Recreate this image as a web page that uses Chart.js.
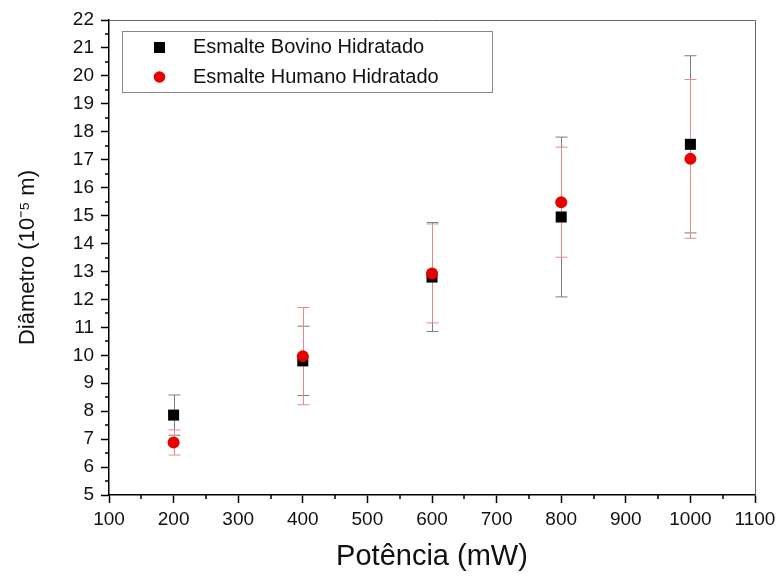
<!DOCTYPE html>
<html>
<head>
<meta charset="utf-8">
<script src="https://cdn.jsdelivr.net/npm/chart.js@4.4.0/dist/chart.umd.min.js"></script>
<style>
    html, body { margin: 0; padding: 0; background: #fff; }
    #wrap { width: 777px; height: 577px; }
</style>
</head>
<body>
<div id="wrap"><canvas id="myChart" width="777" height="577"></canvas></div>
<script>
const potencia = [200, 400, 600, 800, 1000];
const bovino = [7.86, 9.8, 12.8, 14.95, 17.55];
const bovinoErr = [0.72, 1.24, 1.95, 2.86, 3.17];
const humano = [6.88, 9.97, 12.93, 15.48, 17.03];
const humanoErr = [0.45, 1.74, 1.77, 1.97, 2.84];
const seriesLabels = ["Esmalte Bovino Hidratado", "Esmalte Humano Hidratado"];

const FONT = "'Liberation Sans', Arial, sans-serif";

const toPoints = (ys) => potencia.map((x, i) => ({ x: x, y: ys[i] }));

// error bars, drawn under the markers
const errorBars = {
    id: "errorBars",
    beforeDatasetsDraw(chart) {
        const ctx = chart.ctx;
        const xs = chart.scales.x;
        const ys = chart.scales.y;
        const sets = [
            { vals: bovino, err: bovinoErr, color: "#7d7d7d" },
            { vals: humano, err: humanoErr, color: "#e48a8a" }
        ];
        ctx.save();
        ctx.lineWidth = 1;
        sets.forEach(s => {
            ctx.strokeStyle = s.color;
            for (let i = 0; i < potencia.length; i++) {
                const x = Math.round(xs.getPixelForValue(potencia[i])) + 0.5;
                const top = ys.getPixelForValue(s.vals[i] + s.err[i]);
                const bot = ys.getPixelForValue(s.vals[i] - s.err[i]);
                ctx.beginPath();
                ctx.moveTo(x, top);
                ctx.lineTo(x, bot);
                ctx.moveTo(x - 6, top);
                ctx.lineTo(x + 6, top);
                ctx.moveTo(x - 6, bot);
                ctx.lineTo(x + 6, bot);
                ctx.stroke();
            }
        });
        ctx.restore();
    }
};

// frame, minor ticks and the legend box
const decorations = {
    id: "decorations",
    afterDraw(chart) {
        const ctx = chart.ctx;
        const area = chart.chartArea;
        const xs = chart.scales.x;
        const ys = chart.scales.y;
        ctx.save();

        ctx.strokeStyle = "#666";
        ctx.lineWidth = 1;
        ctx.beginPath();
        ctx.moveTo(area.left, area.top + 0.5);
        ctx.lineTo(area.right + 0.5, area.top + 0.5);
        ctx.lineTo(area.right + 0.5, area.bottom);
        ctx.stroke();

        ctx.strokeStyle = "#000";
        ctx.lineWidth = 1.5;
        ctx.beginPath();
        for (let v = 5.5; v < 22; v += 1) {
            const y = Math.round(ys.getPixelForValue(v));
            ctx.moveTo(area.left, y);
            ctx.lineTo(area.left - 4, y);
        }
        for (let v = 150; v < 1100; v += 100) {
            const x = Math.round(xs.getPixelForValue(v));
            ctx.moveTo(x, area.bottom);
            ctx.lineTo(x, area.bottom + 4);
        }
        ctx.stroke();

        // legend
        ctx.strokeStyle = "#888";
        ctx.lineWidth = 1;
        ctx.fillStyle = "#fff";
        ctx.fillRect(122.5, 31.5, 370, 61);
        ctx.strokeRect(122.5, 31.5, 370, 61);

        ctx.fillStyle = "#000";
        ctx.fillRect(154, 42, 11, 11);
        ctx.fillStyle = "#e60000";
        ctx.beginPath();
        ctx.arc(159.5, 77, 5.8, 0, Math.PI * 2);
        ctx.fill();

        ctx.fillStyle = "#111";
        ctx.font = "20px " + FONT;
        ctx.textBaseline = "middle";
        ctx.fillText(seriesLabels[0], 193, 47);
        ctx.fillText(seriesLabels[1], 193, 77);
        ctx.restore();
    }
};

new Chart("myChart", {
    type: "scatter",
    data: {
        datasets: [{
            label: seriesLabels[0],
            data: toPoints(bovino),
            pointStyle: "rect",
            pointRadius: 7.8,
            backgroundColor: "#000",
            borderColor: "#000",
            borderWidth: 0,
            order: 1
        }, {
            label: seriesLabels[1],
            data: toPoints(humano),
            pointStyle: "circle",
            pointRadius: 6,
            backgroundColor: "#e60000",
            borderColor: "#e60000",
            borderWidth: 0,
            order: 0
        }]
    },
    options: {
        responsive: false,
        animation: false,
        layout: {
            padding: { top: 20, right: 22, left: 0, bottom: 0 }
        },
        scales: {
            x: {
                type: "linear",
                min: 100,
                max: 1100,
                afterFit: (s) => {
                    s.height = 82;
                    s.paddingLeft = 0;
                    s.paddingRight = 0;
                },
                ticks: {
                    stepSize: 100,
                    color: "#111",
                    padding: 5,
                    maxRotation: 0,
                    callback: (v) => String(v),
                    font: { family: FONT, size: 19 }
                },
                grid: {
                    drawOnChartArea: false,
                    tickLength: 8,
                    tickColor: "#000",
                    tickWidth: 1.5
                },
                border: { color: "#000", width: 1.5 },
                title: {
                    display: true,
                    text: "Potência (mW)",
                    color: "#111",
                    font: { family: FONT, size: 29 },
                    padding: { top: 0, bottom: 3 }
                }
            },
            y: {
                min: 5,
                max: 22,
                afterFit: (s) => { s.width = 109; },
                ticks: {
                    stepSize: 1,
                    color: "#111",
                    padding: 7,
                    font: { family: FONT, size: 19 }
                },
                grid: {
                    drawOnChartArea: false,
                    tickLength: 8,
                    tickColor: "#000",
                    tickWidth: 1.5
                },
                border: { color: "#000", width: 1.5 },
                title: {
                    display: true,
                    text: "Diâmetro (10⁻⁵ m)",
                    color: "#111",
                    font: { family: FONT, size: 22 },
                    padding: { top: 15, bottom: 0 }
                }
            }
        },
        plugins: {
            legend: { display: false },
            tooltip: { enabled: false },
            title: { display: false }
        }
    },
    plugins: [errorBars, decorations]
});
</script>
</body>
</html>
